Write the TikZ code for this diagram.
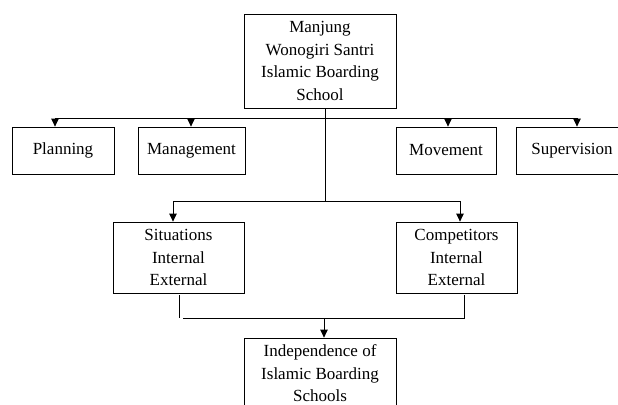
\documentclass[tikz,border=0pt]{standalone}
\usepackage{fontspec}
\setmainfont{Liberation Serif}
\usetikzlibrary{arrows.meta}
\begin{document}
\begin{tikzpicture}[x=1pt,y=-1pt,
  box/.style={draw, line width=0.8pt, inner sep=0pt, align=center,
    font=\fontsize{17}{22.5}\selectfont},
  link/.style={line width=0.8pt},
  arr/.style={link, -{Triangle[width=7.5pt,length=8pt]}}]
\useasboundingbox (0,0) rectangle (618,404);
\clip (0,0) rectangle (618,404);
% boxes
\node[box, minimum width=152pt, minimum height=94pt] (top) at (320,61)
  {Manjung\\Wonogiri Santri\\Islamic Boarding\\School};
\node[box, minimum width=102pt, minimum height=47pt] (plan) at (63,150.5) {Planning};
\node[box, minimum width=107pt, minimum height=47pt] (man) at (191.5,150.5) {Management};
\node[box, minimum width=100pt, minimum height=47pt] (mov) at (446,150.5) {Movement};
\node[box, minimum width=112pt, minimum height=47pt] (sup) at (572,150.5) {Supervision};
\node[box, minimum width=131pt, minimum height=71pt] (sit) at (178.5,257.5)
  {Situations\\Internal\\External};
\node[box, minimum width=121pt, minimum height=71pt] (comp) at (456.5,257.5)
  {Competitors\\Internal\\External};
\node[box, minimum width=152pt, minimum height=71pt] (ind) at (320,373.5)
  {Independence of\\Islamic Boarding\\Schools};
% top distribution line
\coordinate (hl) at (55,118);
\coordinate (hr) at (577,118);
\coordinate (hm) at (191,118);
\coordinate (hv) at (448,118);
\draw[link] (hl) -- (hr);
\draw[arr] (hl) -- (plan.north -| hl);
\draw[arr] (hm) -- (man.north -| hm);
\draw[arr] (hv) -- (mov.north -| hv);
\draw[arr] (hr) -- (sup.north -| hr);
% vertical trunk
\coordinate (vx) at (325,201);
\draw[link] (top.south -| vx) -- (vx);
% second distribution line
\coordinate (sl) at (173,201);
\coordinate (sr) at (460,201);
\draw[link] (sl) -- (sr);
\draw[arr] (sl) -- (sit.north -| sl);
\draw[arr] (sr) -- (comp.north -| sr);
% merge lines
\coordinate (ll) at (179,318);
\coordinate (lh) at (183,318);
\coordinate (rr) at (464,318);
\coordinate (mid) at (324,318);
\draw[link] ([yshift=-2pt]sit.south -| ll) -- (ll);
\draw[link] (lh) -- (rr) -- ([yshift=-2pt]comp.south -| rr);
\draw[arr] (mid) -- (ind.north -| mid);
\end{tikzpicture}
\end{document}
